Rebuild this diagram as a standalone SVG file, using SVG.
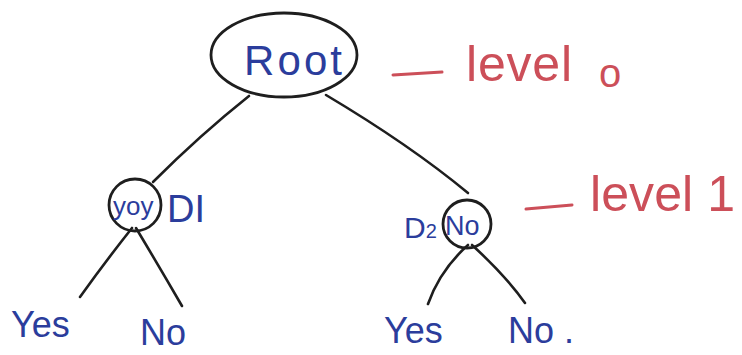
<svg xmlns="http://www.w3.org/2000/svg" width="742" height="355" viewBox="0 0 742 355">
  <style>
    .edge { fill: none; stroke: #1e1e1e; stroke-width: 2.6; stroke-linecap: round; }
    .ring { fill: none; stroke: #1e1e1e; stroke-width: 2.8; }
    .blue { fill: #2b3d9c; font-family: "Liberation Sans", "DejaVu Sans", sans-serif; }
    .red { fill: #cc4f59; font-family: "Liberation Sans", "DejaVu Sans", sans-serif; }
    .dash { stroke: #cc4f59; stroke-width: 3; stroke-linecap: round; }
  </style>
  <rect width="742" height="355" fill="#ffffff"/>

  <!-- branches -->
  <g id="connectors">
    <path class="edge" d="M249 96 Q200 135 153 182"/>
    <path class="edge" d="M326 95 Q410 145 468 193"/>
    <path class="edge" d="M132 228 Q105 262 80 297"/>
    <path class="edge" d="M136 228 Q160 268 182 306"/>
    <path class="edge" d="M468 245 Q440 270 428 304"/>
    <path class="edge" d="M472 245 Q505 275 525 303"/>
  </g>

  <!-- level 0 -->
  <g id="root">
    <ellipse class="ring" cx="284" cy="55" rx="73" ry="42"/>
    <text class="blue" x="244" y="75" font-size="42" textLength="98" lengthAdjust="spacing">Root</text>
  </g>
  <g id="level-0-label">
    <line class="dash" x1="393" y1="75" x2="442" y2="72"/>
    <text class="red" x="466" y="81" font-size="50" textLength="106" lengthAdjust="spacing">level</text>
    <text class="red" x="599" y="87" font-size="40">o</text>
  </g>

  <!-- level 1 -->
  <g id="d1">
    <circle class="ring" cx="135" cy="205" r="26"/>
    <text class="blue" x="113" y="215" font-size="26">yoy</text>
    <text class="blue" x="167" y="222" font-size="38">DI</text>
  </g>
  <g id="d2">
    <circle class="ring" cx="467" cy="224" r="24"/>
    <text class="blue" x="404" y="238" font-size="30">D<tspan font-size="20">2</tspan></text>
    <text class="blue" x="445" y="235" font-size="27">No</text>
  </g>
  <g id="level-1-label">
    <line class="dash" x1="526" y1="209" x2="572" y2="205"/>
    <text class="red" x="590" y="211" font-size="50" textLength="145" lengthAdjust="spacing">level 1</text>
  </g>

  <!-- leaves -->
  <g id="d1-yes">
    <text class="blue" x="11" y="337" font-size="36">Yes</text>
  </g>
  <g id="d1-no">
    <text class="blue" x="140" y="345" font-size="36">No</text>
  </g>
  <g id="d2-yes">
    <text class="blue" x="384" y="343" font-size="36">Yes</text>
  </g>
  <g id="d2-no">
    <text class="blue" x="508" y="343" font-size="36">No .</text>
  </g>
</svg>
